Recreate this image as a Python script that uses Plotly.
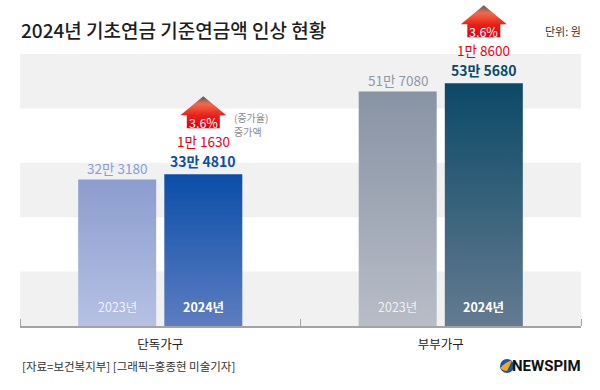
import plotly.graph_objects as go

# ---------------- data ----------------
categories = ["단독가구", "부부가구"]
years = ["2023년", "2024년"]
values_2023 = [323180, 517080]
values_2024 = [334810, 535680]
rate_labels = ["3.6%", "3.6%"]
y_max = 600000
band_step = 120000

title = "2024년 기초연금 기준연금액 인상 현황"
unit_text = "단위: 원"
source_text = "[자료=보건복지부] [그래픽=홍종현 미술기자]"
note_lines = ["(증가율)", "증가액"]

# ---------------- layout constants ----------------
W, H = 600, 390
L, R_, T, B = 20, 19, 2, 64
PW = W - L - R_          # plot width in px
PH = H - T - B           # plot height in px
Y_BOTTOM_PX = H - B      # 326
band_px = 272            # px height of 0..y_max
y_range_top = PH * y_max / band_px
won_per_px = y_max / band_px
x_per_px = 2 / PW

FONT = "Noto Sans CJK KR"


def fmt(v):
    man, rest = divmod(v, 10000)
    return f"{man}만 {rest:04d}" if man else f"{rest}"


def px_x(px):
    return (px - L) / PW


def px_y(py):
    return (Y_BOTTOM_PX - py) / PH


bar_half = 39 * x_per_px
offset = 0.1535
centers = [i + 0.5 for i in range(len(categories))]

grad_2023 = [("#b6c1e3", "#8b9dcf"), ("#b8bdc7", "#8893a4")]
grad_2024 = [("#5d7dc0", "#0a4ea8"), ("#647b91", "#0b4966")]
lab_2023 = ["#8a9dd1", "#8e98a6"]
lab_2024 = ["#0b4ea6", "#0b4a66"]

fig = go.Figure()

# background bands
shapes = []
k = 0
y0 = 0
while y0 < y_max:
    if k % 2 == 0:
        shapes.append(dict(type="rect", xref="paper", yref="y", x0=0, x1=1,
                           y0=y0, y1=y0 + band_step, fillcolor="#f1f1f1",
                           line=dict(width=0), layer="below"))
    y0 += band_step
    k += 1


def bar_trace(xc, v, cols, name):
    xs = [xc - bar_half, xc + bar_half, xc + bar_half, xc - bar_half, xc - bar_half]
    ys = [0, 0, v, v, 0]
    return go.Scatter(x=xs, y=ys, mode="lines", fill="toself", name=name,
                      line=dict(width=0, color="rgba(0,0,0,0)"),
                      fillgradient=dict(type="vertical",
                                        colorscale=[[0, cols[0]], [1, cols[1]]]),
                      hoverinfo="skip", showlegend=False)


annotations = []
for i, cat in enumerate(categories):
    c = centers[i]
    v3, v4 = values_2023[i], values_2024[i]
    x3, x4 = c - offset, c + offset
    fig.add_trace(bar_trace(x3, v3, grad_2023[i], f"{cat} 2023"))
    fig.add_trace(bar_trace(x4, v4, grad_2024[i], f"{cat} 2024"))

    # arrow (px offsets above 2024 bar top)
    hw_head = 23 * x_per_px
    hw_shaft = 16.5 * x_per_px
    yb = v4 + 46 * won_per_px
    yh = v4 + 59 * won_per_px
    yt = v4 + 78 * won_per_px
    ax = [x4 - hw_shaft, x4 + hw_shaft, x4 + hw_shaft, x4 + hw_head, x4,
          x4 - hw_head, x4 - hw_shaft, x4 - hw_shaft]
    ay = [yb, yb, yh, yh, yt, yh, yh, yb]
    fig.add_trace(go.Scatter(x=ax, y=ay, mode="lines", fill="toself",
                             line=dict(width=0, color="rgba(0,0,0,0)"),
                             fillgradient=dict(type="vertical", colorscale=[
                                 [0, "#e50012"], [0.4, "#e9201a"], [0.6, "#ef4c34"],
                                 [0.76, "#ef6a4e"], [0.87, "#a86556"], [1, "#555555"]]),
                             hoverinfo="skip", showlegend=False))

    # value labels
    annotations.append(dict(x=x3, y=v3, xref="x", yref="y", text=fmt(v3),
                            showarrow=False, yshift=11.5,
                            font=dict(family=FONT, size=13.5, color=lab_2023[i])))
    annotations.append(dict(x=x4, y=v4, xref="x", yref="y", text=f"<b>{fmt(v4)}</b>",
                            showarrow=False, yshift=13,
                            font=dict(family=FONT, size=14, color=lab_2024[i])))
    # increase amount and rate
    annotations.append(dict(x=x4, y=v4, xref="x", yref="y", text=fmt(v4 - v3),
                            showarrow=False, yshift=33,
                            font=dict(family=FONT, size=13.5, color="#e60012")))
    annotations.append(dict(x=x4, y=v4, xref="x", yref="y", text=rate_labels[i],
                            showarrow=False, yshift=52,
                            font=dict(family=FONT, size=12.5, color="white")))
    # year labels inside bars
    annotations.append(dict(x=x3, y=0, xref="x", yref="y", text=years[0],
                            showarrow=False, yshift=20,
                            font=dict(family=FONT, size=12.5, color="rgba(255,255,255,0.8)")))
    annotations.append(dict(x=x4, y=0, xref="x", yref="y", text=f"<b>{years[1]}</b>",
                            showarrow=False, yshift=20,
                            font=dict(family=FONT, size=12.5, color="white")))

# explanation next to first arrow
xe = centers[0] + offset + 29 * x_per_px
for line, ys in zip(note_lines, [57, 43]):
    annotations.append(dict(x=xe, y=values_2024[0], xref="x", yref="y", text=line,
                            showarrow=False, xanchor="left", yshift=ys,
                            font=dict(family=FONT, size=10, color="#8a8a8a")))

# title, unit, source, logo
annotations.append(dict(x=px_x(19), y=px_y(29), xref="paper", yref="paper", text=title,
                        showarrow=False, xanchor="left", yanchor="middle",
                        font=dict(family=FONT, size=19, color="#1e1e1e", weight=500)))
annotations.append(dict(x=px_x(583), y=px_y(31), xref="paper", yref="paper", text=unit_text,
                        showarrow=False, xanchor="right", yanchor="middle",
                        font=dict(family=FONT, size=11, color="#333333")))
annotations.append(dict(x=px_x(20), y=px_y(366), xref="paper", yref="paper", text=source_text,
                        showarrow=False, xanchor="left", yanchor="middle",
                        font=dict(family=FONT, size=11.5, color="#333333")))
annotations.append(dict(x=px_x(583), y=px_y(366), xref="paper", yref="paper",
                        text="<b>NEWSPIM</b>",
                        showarrow=False, xanchor="right", yanchor="middle",
                        font=dict(family="Liberation Sans Narrow, Roboto", size=15, color="#111111")))
# logo icon
shapes.append(dict(type="circle", xref="paper", yref="paper",
                   x0=px_x(500), x1=px_x(514), y0=px_y(373), y1=px_y(359),
                   fillcolor="#1d55a5", line=dict(width=0)))
shapes.append(dict(type="path", xref="paper", yref="paper",
                   path=(f"M {px_x(500.5)},{px_y(368)} Q {px_x(505)},{px_y(362)} {px_x(512)},{px_y(360.5)} "
                         f"L {px_x(507)},{px_y(371)} Q {px_x(503)},{px_y(371)} {px_x(500.5)},{px_y(368)} Z"),
                   fillcolor="#f5a623", line=dict(width=0)))

fig.update_layout(
    width=W, height=H,
    margin=dict(l=L, r=R_, t=T, b=B),
    paper_bgcolor="white", plot_bgcolor="white",
    shapes=shapes, annotations=annotations,
    showlegend=False,
    xaxis=dict(range=[0, 2], tickvals=centers, ticktext=categories, ticks="",
               showgrid=False, zeroline=False, showline=True, linecolor="#a3a3a3",
               linewidth=2, fixedrange=True,
               tickfont=dict(family=FONT, size=12.5, color="#222222"),
               ticklabelstandoff=6,
               minor=dict(tickvals=[0, 1, 2], ticks="inside", ticklen=7,
                          tickcolor="#a3a3a3", tickwidth=1, showgrid=False)),
    yaxis=dict(range=[0, y_range_top], visible=False, fixedrange=True),
)

fig.write_html("out.html", config={"displayModeBar": False, "staticPlot": True},
               post_script="document.body.style.margin='0';document.body.style.overflow='hidden';")
